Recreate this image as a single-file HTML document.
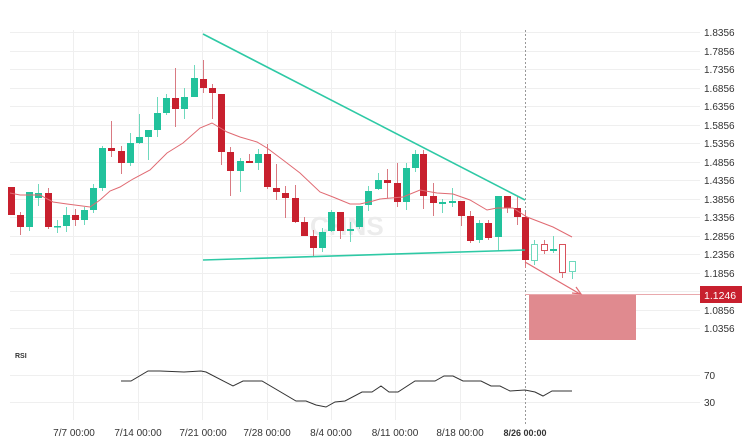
<!DOCTYPE html>
<html><head><meta charset="utf-8"><style>
html,body{margin:0;padding:0;background:#fff;}
svg{display:block;font-family:"Liberation Sans",sans-serif;}
</style></head><body>
<svg width="752" height="447" viewBox="0 0 752 447" xmlns="http://www.w3.org/2000/svg">
<g stroke="#efefef" stroke-width="1">
<line x1="73.5" y1="30" x2="73.5" y2="420"/><line x1="138.5" y1="30" x2="138.5" y2="420"/><line x1="202.5" y1="30" x2="202.5" y2="420"/><line x1="267.5" y1="30" x2="267.5" y2="420"/><line x1="331.5" y1="30" x2="331.5" y2="420"/><line x1="395.5" y1="30" x2="395.5" y2="420"/><line x1="460.5" y1="30" x2="460.5" y2="420"/>
<line x1="10" y1="32.5" x2="700" y2="32.5"/><line x1="10" y1="51.5" x2="700" y2="51.5"/><line x1="10" y1="69.5" x2="700" y2="69.5"/><line x1="10" y1="88.5" x2="700" y2="88.5"/><line x1="10" y1="106.5" x2="700" y2="106.5"/><line x1="10" y1="125.5" x2="700" y2="125.5"/><line x1="10" y1="143.5" x2="700" y2="143.5"/><line x1="10" y1="162.5" x2="700" y2="162.5"/><line x1="10" y1="180.5" x2="700" y2="180.5"/><line x1="10" y1="199.5" x2="700" y2="199.5"/><line x1="10" y1="217.5" x2="700" y2="217.5"/><line x1="10" y1="236.5" x2="700" y2="236.5"/><line x1="10" y1="254.5" x2="700" y2="254.5"/><line x1="10" y1="273.5" x2="700" y2="273.5"/><line x1="10" y1="291.5" x2="700" y2="291.5"/><line x1="10" y1="310.5" x2="700" y2="310.5"/><line x1="10" y1="328.5" x2="700" y2="328.5"/>
<line x1="10" y1="375.5" x2="700" y2="375.5"/><line x1="10" y1="402.5" x2="700" y2="402.5"/>
</g>
<text x="310" y="235" font-size="26" font-weight="bold" fill="#ececec">CHNS</text>
<line x1="525.5" y1="30" x2="525.5" y2="425" stroke="#999" stroke-dasharray="2,2" stroke-width="1"/>
<rect x="529" y="294" width="107" height="46" fill="#e08a8f"/>
<line x1="525" y1="294.5" x2="700" y2="294.5" stroke="#e9a9ad" stroke-width="1"/>
<g stroke="#d97a82" stroke-width="1">
<line x1="11.5" y1="187" x2="11.5" y2="215"/><line x1="20.5" y1="212" x2="20.5" y2="235"/><line x1="48.5" y1="188" x2="48.5" y2="229"/><line x1="75.5" y1="209" x2="75.5" y2="226"/><line x1="111.5" y1="121" x2="111.5" y2="157"/><line x1="121.5" y1="146" x2="121.5" y2="174"/><line x1="175.5" y1="68" x2="175.5" y2="127"/><line x1="203.5" y1="60" x2="203.5" y2="93"/><line x1="212.5" y1="84" x2="212.5" y2="119"/><line x1="221.5" y1="94" x2="221.5" y2="165"/><line x1="230.5" y1="147" x2="230.5" y2="196"/><line x1="249.5" y1="154" x2="249.5" y2="163"/><line x1="267.5" y1="144" x2="267.5" y2="189"/><line x1="276.5" y1="164" x2="276.5" y2="200"/><line x1="285.5" y1="186" x2="285.5" y2="218"/><line x1="295.5" y1="185" x2="295.5" y2="223"/><line x1="304.5" y1="217" x2="304.5" y2="236"/><line x1="313.5" y1="230" x2="313.5" y2="256"/><line x1="340.5" y1="212" x2="340.5" y2="239"/><line x1="387.5" y1="169" x2="387.5" y2="198"/><line x1="397.5" y1="163" x2="397.5" y2="207"/><line x1="423.5" y1="150" x2="423.5" y2="209"/><line x1="433.5" y1="183" x2="433.5" y2="216"/><line x1="461.5" y1="201" x2="461.5" y2="226"/><line x1="470.5" y1="211" x2="470.5" y2="243"/><line x1="488.5" y1="220" x2="488.5" y2="240"/><line x1="507.5" y1="196" x2="507.5" y2="213"/><line x1="517.5" y1="197" x2="517.5" y2="225"/><line x1="525.5" y1="212" x2="525.5" y2="268"/><line x1="544.5" y1="240" x2="544.5" y2="254"/><line x1="562.5" y1="244" x2="562.5" y2="278"/>
</g>
<g stroke="#6fd9bd" stroke-width="1">
<line x1="29.5" y1="192" x2="29.5" y2="231"/><line x1="38.5" y1="184" x2="38.5" y2="206"/><line x1="57.5" y1="220" x2="57.5" y2="233"/><line x1="66.5" y1="207" x2="66.5" y2="232"/><line x1="84.5" y1="207" x2="84.5" y2="225"/><line x1="93.5" y1="184" x2="93.5" y2="213"/><line x1="102.5" y1="146" x2="102.5" y2="191"/><line x1="130.5" y1="133" x2="130.5" y2="166"/><line x1="139.5" y1="114" x2="139.5" y2="144"/><line x1="148.5" y1="130" x2="148.5" y2="160"/><line x1="157.5" y1="97" x2="157.5" y2="137"/><line x1="166.5" y1="94" x2="166.5" y2="115"/><line x1="184.5" y1="88" x2="184.5" y2="119"/><line x1="194.5" y1="65" x2="194.5" y2="97"/><line x1="240.5" y1="158" x2="240.5" y2="192"/><line x1="258.5" y1="149" x2="258.5" y2="170"/><line x1="322.5" y1="228" x2="322.5" y2="252"/><line x1="331.5" y1="210" x2="331.5" y2="232"/><line x1="350.5" y1="222" x2="350.5" y2="242"/><line x1="359.5" y1="206" x2="359.5" y2="229"/><line x1="368.5" y1="186" x2="368.5" y2="211"/><line x1="378.5" y1="173" x2="378.5" y2="190"/><line x1="406.5" y1="163" x2="406.5" y2="210"/><line x1="415.5" y1="150" x2="415.5" y2="172"/><line x1="442.5" y1="199" x2="442.5" y2="213"/><line x1="452.5" y1="188" x2="452.5" y2="207"/><line x1="479.5" y1="220" x2="479.5" y2="243"/><line x1="498.5" y1="196" x2="498.5" y2="251"/><line x1="534.5" y1="240" x2="534.5" y2="265"/><line x1="553.5" y1="236" x2="553.5" y2="253"/><line x1="572.5" y1="261" x2="572.5" y2="279"/>
</g>
<g fill="#c8202e">
<rect x="8" y="187" width="7" height="28"/><rect x="17" y="215" width="7" height="12"/><rect x="45" y="193" width="7" height="34"/><rect x="72" y="215" width="7" height="5"/><rect x="108" y="148" width="7" height="3"/><rect x="118" y="151" width="7" height="12"/><rect x="172" y="98" width="7" height="11"/><rect x="200" y="79" width="7" height="9"/><rect x="209" y="88" width="7" height="5"/><rect x="218" y="94" width="7" height="58"/><rect x="227" y="152" width="7" height="19"/><rect x="246" y="161" width="7" height="2"/><rect x="264" y="154" width="7" height="33"/><rect x="273" y="188" width="7" height="4"/><rect x="282" y="193" width="7" height="5"/><rect x="292" y="198" width="7" height="24"/><rect x="301" y="222" width="7" height="14"/><rect x="310" y="236" width="7" height="12"/><rect x="337" y="212" width="7" height="19"/><rect x="384" y="180" width="7" height="3"/><rect x="394" y="183" width="7" height="19"/><rect x="420" y="154" width="7" height="42"/><rect x="430" y="196" width="7" height="7"/><rect x="458" y="201" width="7" height="15"/><rect x="467" y="216" width="7" height="25"/><rect x="485" y="223" width="7" height="15"/><rect x="504" y="196" width="7" height="12"/><rect x="514" y="208" width="7" height="9"/><rect x="522" y="217" width="7" height="43"/>
</g>
<g fill="#22c29c">
<rect x="26" y="192" width="7" height="35"/><rect x="35" y="193" width="7" height="5"/><rect x="54" y="226" width="7" height="1.5"/><rect x="63" y="215" width="7" height="11"/><rect x="81" y="210" width="7" height="10"/><rect x="90" y="188" width="7" height="22"/><rect x="99" y="148" width="7" height="40"/><rect x="127" y="143" width="7" height="20"/><rect x="136" y="137" width="7" height="6"/><rect x="145" y="130" width="7" height="7"/><rect x="154" y="113" width="7" height="17"/><rect x="163" y="98" width="7" height="15"/><rect x="181" y="97" width="7" height="12"/><rect x="191" y="78" width="7" height="19"/><rect x="237" y="161" width="7" height="10"/><rect x="255" y="154" width="7" height="9"/><rect x="319" y="232" width="7" height="16"/><rect x="328" y="212" width="7" height="19"/><rect x="347" y="229" width="7" height="2"/><rect x="356" y="206" width="7" height="21"/><rect x="365" y="191" width="7" height="14"/><rect x="375" y="180" width="7" height="9"/><rect x="403" y="168" width="7" height="34"/><rect x="412" y="154" width="7" height="14"/><rect x="439" y="202" width="7" height="2"/><rect x="449" y="201" width="7" height="2"/><rect x="476" y="223" width="7" height="17"/><rect x="495" y="196" width="7" height="41"/><rect x="550" y="249" width="7" height="2"/>
</g>
<rect x="531.5" y="244.5" width="6" height="16" fill="#fff" stroke="#6fd9bd"/>
<rect x="541.5" y="244.5" width="6" height="6" fill="#fff" stroke="#d9525c"/>
<rect x="559.5" y="244.5" width="6" height="28" fill="#fff" stroke="#d9525c"/>
<rect x="569.5" y="261.5" width="6" height="10" fill="#fff" stroke="#6fd9bd"/>
<polyline fill="none" stroke="#e06a72" stroke-width="1" points="10,193 20,195 40,195 53,202 67,204 90,207 100,200 110,191 120,187 133,179 150,170 167,153 183,143 200,128 212,123 227,132 240,137 257,142 267,148 283,160 300,173 320,192 333,197 350,204 360,204 373,201 380,199 403,197 420,190 437,193 453,194 470,200 487,210 497,208 513,208 527,217 553,227 572,237"/>
<line x1="203" y1="34" x2="525" y2="200" stroke="#2ec9a5" stroke-width="1.6"/>
<line x1="203" y1="260" x2="525" y2="250" stroke="#2ec9a5" stroke-width="1.6"/>
<line x1="525" y1="262" x2="580" y2="294" stroke="#e06a72" stroke-width="1.2"/>
<polyline fill="none" stroke="#e06a72" stroke-width="1.2" points="572,293 581,294 576,287"/>
<g font-size="10" fill="#333" text-anchor="start">
<text x="704" y="36">1.8356</text><text x="704" y="55">1.7856</text><text x="704" y="73">1.7356</text><text x="704" y="92">1.6856</text><text x="704" y="110">1.6356</text><text x="704" y="129">1.5856</text><text x="704" y="147">1.5356</text><text x="704" y="166">1.4856</text><text x="704" y="184">1.4356</text><text x="704" y="203">1.3856</text><text x="704" y="221">1.3356</text><text x="704" y="240">1.2856</text><text x="704" y="258">1.2356</text><text x="704" y="277">1.1856</text><text x="704" y="314">1.0856</text><text x="704" y="332">1.0356</text>
<text x="704" y="379">70</text><text x="704" y="406">30</text>
</g>
<rect x="700" y="286" width="42" height="17" fill="#c8202e"/>
<text x="704" y="299" font-size="10.5" fill="#fff">1.1246</text>
<text x="15" y="358" font-size="7" font-weight="bold" fill="#333">RSI</text>
<polyline fill="none" stroke="#333" stroke-width="1" points="121,381 131,381 148,371 160,371 184,372 201,371 206,372 233,386 243,381 262,381 296,401 306,401 316,405 326,407 335,402 345,401 362,392 372,392 381,386 389,392 398,392 415,381 435,381 444,376 453,376 463,381 481,381 491,386 500,386 510,391 525,390 535,392 543,396 552,391 572,391"/>
<g font-size="10" fill="#333" text-anchor="middle">
<text x="74" y="436">7/7 00:00</text><text x="138" y="436">7/14 00:00</text><text x="203" y="436">7/21 00:00</text><text x="267" y="436">7/28 00:00</text><text x="331" y="436">8/4 00:00</text><text x="395" y="436">8/11 00:00</text><text x="460" y="436">8/18 00:00</text><text x="525" y="436" font-weight="bold" font-size="9">8/26 00:00</text>
</g>
</svg>
</body></html>
